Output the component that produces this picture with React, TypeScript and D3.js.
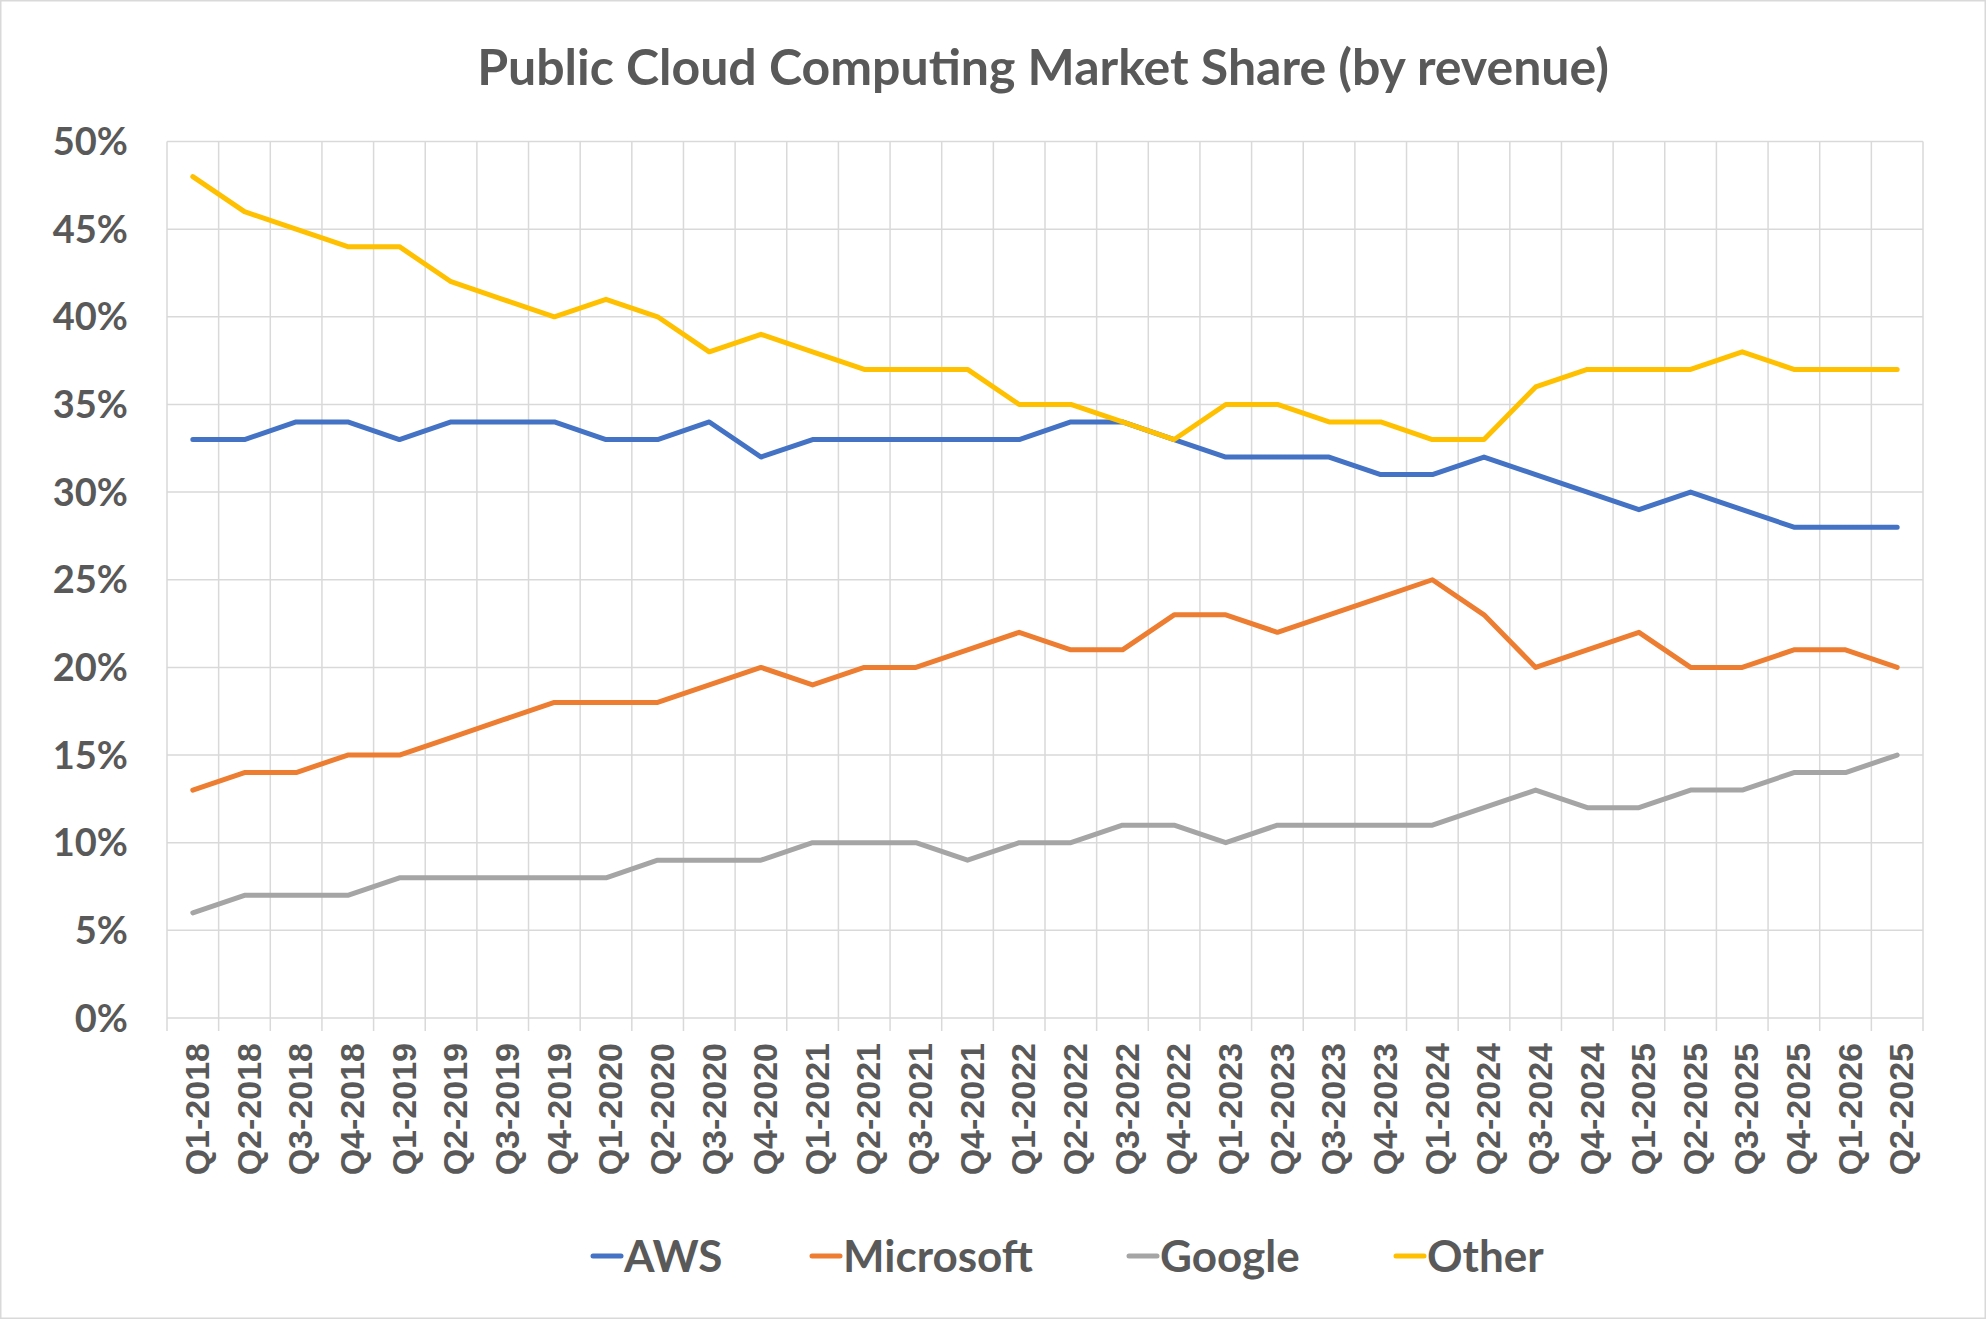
import React from 'react';
import * as d3 from 'd3';

const quarters = [
  'Q1-2018', 'Q2-2018', 'Q3-2018', 'Q4-2018',
  'Q1-2019', 'Q2-2019', 'Q3-2019', 'Q4-2019',
  'Q1-2020', 'Q2-2020', 'Q3-2020', 'Q4-2020',
  'Q1-2021', 'Q2-2021', 'Q3-2021', 'Q4-2021',
  'Q1-2022', 'Q2-2022', 'Q3-2022', 'Q4-2022',
  'Q1-2023', 'Q2-2023', 'Q3-2023', 'Q4-2023',
  'Q1-2024', 'Q2-2024', 'Q3-2024', 'Q4-2024',
  'Q1-2025', 'Q2-2025', 'Q3-2025', 'Q4-2025',
  'Q1-2026', 'Q2-2025',
];

const aws = [33, 33, 34, 34, 33, 34, 34, 34, 33, 33, 34, 32, 33, 33, 33, 33, 33, 34, 34, 33, 32, 32, 32, 31, 31, 32, 31, 30, 29, 30, 29, 28, 28, 28];
const microsoft = [13, 14, 14, 15, 15, 16, 17, 18, 18, 18, 19, 20, 19, 20, 20, 21, 22, 21, 21, 23, 23, 22, 23, 24, 25, 23, 20, 21, 22, 20, 20, 21, 21, 20];
const google = [6, 7, 7, 7, 8, 8, 8, 8, 8, 9, 9, 9, 10, 10, 10, 9, 10, 10, 11, 11, 10, 11, 11, 11, 11, 12, 13, 12, 12, 13, 13, 14, 14, 15];
const other = [48, 46, 45, 44, 44, 42, 41, 40, 41, 40, 38, 39, 38, 37, 37, 37, 35, 35, 34, 33, 35, 35, 34, 34, 33, 33, 36, 37, 37, 37, 38, 37, 37, 37];

const seriesNames = ['AWS', 'Microsoft', 'Google', 'Other'];
const seriesValues = [aws, microsoft, google, other];
const seriesColors = ['#4472C4', '#ED7D31', '#A5A5A5', '#FFC000'];

const yTicks = [0, 5, 10, 15, 20, 25, 30, 35, 40, 45, 50];

const W = 1986;
const H = 1319;
const textColor = '#595959';
const gridColor = '#d9d9d9';
const calibriLike = 'Lato, "Open Sans", sans-serif';

const App: React.FC = () => {
  const left = 167;
  const right = 1923;
  const top = 141.5;
  const bottom = 1018;

  const x = d3.scaleBand<number>()
    .domain(d3.range(quarters.length))
    .range([left, right])
    .paddingInner(0)
    .paddingOuter(0);
  const bw = x.bandwidth();
  const cx = (i: number) => (x(i) as number) + bw / 2;

  const y = d3.scaleLinear().domain([0, 50]).range([bottom, top]);

  const line = d3.line<number>()
    .x((_, i) => cx(i))
    .y(d => y(d));

  const boundaries = d3.range(quarters.length + 1).map(i => left + i * bw);

  // legend layout
  const legendX = [593, 812, 1129, 1396];
  const legendY = 1256;

  return (
    <svg width={W} height={H} viewBox={`0 0 ${W} ${H}`}
      style={{ position: 'absolute', left: 0, top: 0, display: 'block', background: '#fff' }}>
      <rect x={0.75} y={0.75} width={W - 1.5} height={H - 1.5} fill="#fff" stroke={gridColor} strokeWidth={1.5} />

      <text x={1043} y={85} textAnchor="middle" fill={textColor}
        style={{ font: `bold 50px ${calibriLike}` }}>
        Public Cloud Computing Market Share (by revenue)
      </text>

      {/* horizontal gridlines */}
      {yTicks.map(t => (
        <line key={'h' + t} x1={left} x2={right} y1={y(t)} y2={y(t)} stroke={gridColor} strokeWidth={1.5} />
      ))}
      {/* vertical gridlines and tick marks */}
      {boundaries.map((bx, i) => (
        <line key={'v' + i} x1={bx} x2={bx} y1={top} y2={bottom + 13} stroke={gridColor} strokeWidth={1.5} />
      ))}

      {/* y labels */}
      {yTicks.map(t => (
        <text key={'yl' + t} x={128} y={y(t)} dy="0.36em" textAnchor="end" fill={textColor}
          style={{ font: `bold 38px ${calibriLike}` }}>
          {d3.format('.0%')(t / 100)}
        </text>
      ))}

      {/* x labels */}
      {quarters.map((q, i) => (
        <text key={'xl' + i} transform={`translate(${cx(i) + 4},1043) rotate(-90)`} dy="0.36em"
          textAnchor="end" fill={textColor}
          style={{ font: 'bold 34px "Liberation Sans", Arial, sans-serif' }}>
          {q}
        </text>
      ))}

      {/* series */}
      {seriesValues.map((vals, s) => (
        <path key={'s' + s} d={line(vals) || ''} fill="none" stroke={seriesColors[s]}
          strokeWidth={5} strokeLinejoin="round" strokeLinecap="round" />
      ))}

      {/* legend */}
      {seriesNames.map((name, s) => (
        <g key={'lg' + s}>
          <line x1={legendX[s]} x2={legendX[s] + 28} y1={legendY} y2={legendY}
            stroke={seriesColors[s]} strokeWidth={5} strokeLinecap="round" />
          <text x={legendX[s] + 31} y={legendY} dy="0.36em" fill={textColor}
            style={{ font: `bold 44px ${calibriLike}` }}>
            {name}
          </text>
        </g>
      ))}
    </svg>
  );
};

export default App;
